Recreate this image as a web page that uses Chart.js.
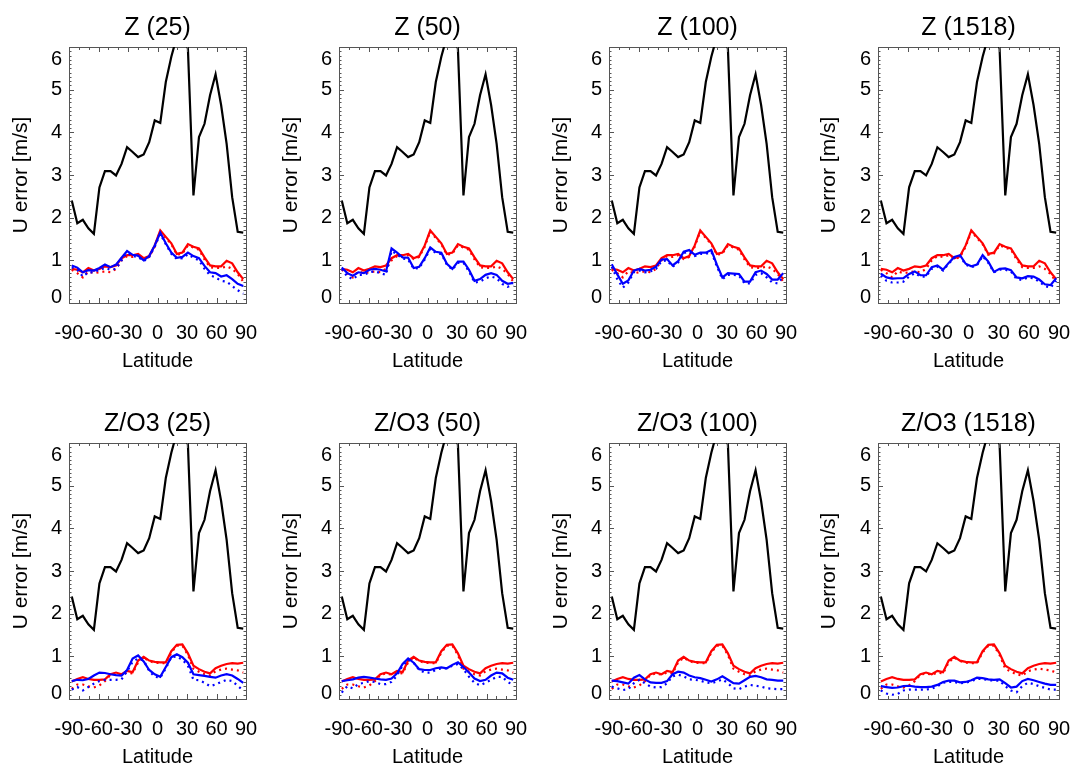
<!DOCTYPE html>
<html><head><meta charset="utf-8">
<script src="https://cdn.jsdelivr.net/npm/chart.js@4.4.1/dist/chart.umd.min.js"></script>
<style>
html,body{margin:0;padding:0;background:#fff;overflow:hidden;width:1072px;height:768px;}
.p{position:absolute;}
canvas{display:block;}
</style></head><body>
<script>
const lats = [-87.19,-81.56,-75.94,-70.31,-64.69,-59.06,-53.44,-47.81,-42.19,-36.56,-30.94,-25.31,-19.69,-14.06,-8.44,-2.81,2.81,8.44,14.06,19.69,25.31,30.94,36.56,42.19,47.81,53.44,59.06,64.69,70.31,75.94,81.56,87.19];
const xTicks = [-90,-60,-30,0,30,60,90];
const yTicks = [0,1,2,3,4,5,6];
const titles = ['Z (25)','Z (50)','Z (100)','Z (1518)','Z/O3 (25)','Z/O3 (50)','Z/O3 (100)','Z/O3 (1518)'];

const black = [2.40,1.87,1.95,1.75,1.62,2.71,3.09,3.09,2.99,3.26,3.65,3.54,3.42,3.48,3.77,4.28,4.22,5.18,5.77,6.25,6.60,5.95,2.52,3.89,4.20,4.87,5.36,4.64,3.73,2.48,1.67,1.65];

const redZ = [0.80,0.78,0.72,0.82,0.76,0.80,0.86,0.84,0.88,1.05,1.12,1.12,1.15,1.05,1.10,1.35,1.70,1.55,1.40,1.15,1.18,1.38,1.32,1.28,1.07,0.88,0.86,0.86,0.99,0.93,0.72,0.56];
const redZdot = [0.78,0.70,0.60,0.74,0.70,0.72,0.74,0.72,0.80,1.00,1.10,1.08,1.12,1.03,1.08,1.32,1.68,1.52,1.38,1.13,1.16,1.35,1.30,1.25,1.02,0.84,0.82,0.82,0.86,0.80,0.68,0.50];
const redO = [0.41,0.47,0.51,0.47,0.45,0.45,0.46,0.58,0.62,0.58,0.66,0.63,0.90,0.99,0.90,0.87,0.86,0.86,1.12,1.27,1.28,1.07,0.78,0.70,0.64,0.60,0.72,0.78,0.82,0.84,0.83,0.85];
const redOdot = [0.24,0.34,0.34,0.30,0.27,0.32,0.42,0.57,0.60,0.57,0.62,0.60,0.86,0.97,0.89,0.85,0.84,0.84,1.09,1.25,1.25,1.03,0.71,0.64,0.58,0.55,0.65,0.69,0.71,0.69,0.67,0.62];

const blueZ25 = [0.88,0.83,0.72,0.77,0.76,0.82,0.90,0.84,0.90,1.06,1.22,1.13,1.11,1.00,1.10,1.35,1.65,1.40,1.18,1.06,1.08,1.18,1.10,1.05,0.87,0.72,0.70,0.62,0.65,0.56,0.45,0.40];
const blueZ25dot = [0.84,0.78,0.62,0.72,0.72,0.78,0.82,0.78,0.80,1.00,1.18,1.10,1.08,0.98,1.08,1.32,1.62,1.38,1.15,1.03,1.05,1.14,1.06,1.00,0.80,0.65,0.60,0.52,0.50,0.40,0.30,0.22];
const blueZ50 = [0.83,0.70,0.64,0.72,0.70,0.78,0.80,0.78,0.74,1.28,1.18,1.07,1.06,0.82,0.85,1.05,1.30,1.20,1.18,0.92,0.80,0.97,0.97,0.78,0.52,0.56,0.66,0.70,0.66,0.52,0.45,0.47];
const blueZ50dot = [0.80,0.62,0.56,0.66,0.66,0.72,0.74,0.70,0.66,1.22,1.14,1.04,1.02,0.80,0.82,1.02,1.27,1.17,1.15,0.90,0.78,0.94,0.94,0.74,0.48,0.50,0.58,0.62,0.58,0.45,0.38,0.42];
const blueZ100 = [0.91,0.67,0.45,0.53,0.76,0.80,0.76,0.78,0.85,1.02,1.03,0.88,0.98,1.20,1.24,1.13,1.18,1.18,1.24,0.90,0.60,0.70,0.69,0.68,0.50,0.50,0.72,0.76,0.68,0.55,0.55,0.70];
const blueZ100dot = [0.85,0.56,0.36,0.48,0.72,0.76,0.72,0.74,0.80,0.98,1.00,0.85,0.95,1.17,1.20,1.10,1.15,1.15,1.20,0.86,0.56,0.66,0.66,0.64,0.46,0.46,0.66,0.70,0.60,0.48,0.46,0.62];
const blueZ1518 = [0.69,0.60,0.57,0.58,0.58,0.68,0.74,0.65,0.65,0.84,0.88,0.78,0.94,1.08,1.12,0.92,0.86,0.90,1.12,0.97,0.73,0.80,0.81,0.77,0.60,0.58,0.63,0.62,0.55,0.44,0.42,0.58];
const blueZ1518dot = [0.64,0.52,0.48,0.48,0.50,0.62,0.70,0.62,0.62,0.80,0.85,0.76,0.92,1.06,1.10,0.90,0.84,0.88,1.10,0.94,0.72,0.78,0.78,0.74,0.56,0.54,0.60,0.58,0.50,0.40,0.36,0.52];
const blueO25 = [0.42,0.45,0.44,0.47,0.55,0.62,0.61,0.58,0.56,0.55,0.68,0.95,1.02,0.88,0.68,0.58,0.52,0.75,0.98,1.05,0.98,0.85,0.58,0.56,0.54,0.52,0.50,0.55,0.58,0.55,0.47,0.38];
const blueO25dot = [0.22,0.28,0.20,0.28,0.36,0.42,0.45,0.45,0.45,0.46,0.65,0.87,0.95,0.90,0.66,0.52,0.50,0.72,0.98,1.00,0.92,0.78,0.45,0.44,0.38,0.30,0.34,0.40,0.45,0.42,0.31,0.20];
const blueO50 = [0.42,0.44,0.46,0.50,0.52,0.50,0.48,0.46,0.45,0.48,0.60,0.82,0.95,0.85,0.70,0.68,0.68,0.72,0.74,0.72,0.80,0.86,0.75,0.62,0.48,0.42,0.45,0.55,0.62,0.60,0.50,0.45];
const blueO50dot = [0.15,0.30,0.25,0.35,0.38,0.42,0.40,0.35,0.35,0.40,0.55,0.78,0.92,0.85,0.68,0.62,0.62,0.68,0.72,0.72,0.78,0.82,0.70,0.52,0.38,0.32,0.38,0.45,0.52,0.52,0.40,0.33];
const blueO100 = [0.43,0.42,0.39,0.36,0.50,0.56,0.46,0.39,0.38,0.38,0.42,0.58,0.64,0.62,0.55,0.51,0.49,0.45,0.41,0.46,0.53,0.45,0.37,0.36,0.44,0.52,0.54,0.51,0.46,0.45,0.43,0.43];
const blueO100dot = [0.29,0.25,0.21,0.23,0.37,0.45,0.37,0.29,0.27,0.28,0.37,0.53,0.57,0.53,0.46,0.45,0.43,0.39,0.37,0.41,0.46,0.37,0.25,0.23,0.29,0.33,0.31,0.29,0.25,0.24,0.23,0.23];
const blueO1518 = [0.30,0.28,0.26,0.27,0.30,0.31,0.29,0.28,0.28,0.29,0.33,0.40,0.43,0.43,0.39,0.40,0.44,0.50,0.49,0.46,0.45,0.46,0.37,0.27,0.29,0.42,0.47,0.44,0.40,0.36,0.33,0.33];
const blueO1518dot = [0.20,0.13,0.10,0.12,0.20,0.22,0.22,0.22,0.22,0.24,0.30,0.38,0.40,0.40,0.37,0.38,0.42,0.47,0.47,0.44,0.43,0.43,0.30,0.20,0.16,0.30,0.38,0.35,0.30,0.26,0.22,0.22];

const blueSolid = [blueZ25, blueZ50, blueZ100, blueZ1518, blueO25, blueO50, blueO100, blueO1518];
const blueDotted = [blueZ25dot, blueZ50dot, blueZ100dot, blueZ1518dot, blueO25dot, blueO50dot, blueO100dot, blueO1518dot];
const redSolid = [redZ, redO];
const redDotted = [redZdot, redOdot];

const FAM = '"Liberation Sans", Arial, Helvetica, sans-serif';
Chart.defaults.font.family = FAM;
Chart.defaults.color = '#000';

const COL_LEFT = [0, 270, 540, 808];
const COL_W = [270, 270, 270, 264];
const Y_W = [69, 69, 69, 70];
const PAD_R = [24, 24, 24, 13];
const ROW_TOP = [0, 396];
const CH = 372;

const frameTicks = {
  id: 'frameTicks',
  afterDraw(chart) {
    const {ctx, chartArea: a} = chart;
    const xs = chart.scales.x, ys = chart.scales.y;
    ctx.save();
    ctx.strokeStyle = '#555';
    ctx.lineWidth = 1;
    ctx.beginPath();
    for (let k = 0; k <= 18; k++) {
      const px = Math.round(xs.getPixelForValue(-90 + k * 10)) + 0.5;
      const len = (k % 3 === 0) ? 5 : 3;
      ctx.moveTo(px, a.bottom); ctx.lineTo(px, a.bottom - len);
      ctx.moveTo(px, a.top); ctx.lineTo(px, a.top + len);
    }
    for (let k = 0; k <= 60; k++) {
      const py = Math.round(ys.getPixelForValue(k / 10)) + 0.5;
      const len = (k % 10 === 0) ? 5 : 2.5;
      ctx.moveTo(a.left, py); ctx.lineTo(a.left + len, py);
      ctx.moveTo(a.right, py); ctx.lineTo(a.right - len, py);
    }
    ctx.stroke();
    ctx.fillStyle = '#000';
    ctx.font = '20px ' + FAM;
    ctx.textAlign = 'right';
    ctx.textBaseline = 'middle';
    yTicks.forEach(v => {
      let py = ys.getPixelForValue(v);
      if (v === ys.max) py += 12;
      if (v === ys.min) py -= 6;
      ctx.fillText(String(v), a.left - 7, py);
    });
    ctx.restore();
  }
};

function makePanel(p) {
  const row = Math.floor(p / 4), col = p % 4;
  const div = document.createElement('div');
  div.className = 'p';
  div.style.left = COL_LEFT[col] + 'px';
  div.style.top = ROW_TOP[row] + 'px';
  const cv = document.createElement('canvas');
  cv.width = COL_W[col]; cv.height = CH;
  cv.style.width = COL_W[col] + 'px'; cv.style.height = CH + 'px';
  div.appendChild(cv);
  document.body.appendChild(div);

  const pts = arr => lats.map((x, i) => ({x: x, y: arr[i]}));
  const solid = (arr, color) => ({data: pts(arr), borderColor: color, backgroundColor: color, borderWidth: 2.2, pointRadius: 0, pointHoverRadius: 0, tension: 0, fill: false, clip: 0});
  const dotted = (arr, color) => Object.assign(solid(arr, color), {borderDash: [2, 4]});
  const border = {display: true, color: '#555', width: 1};

  new Chart(cv, {
    type: 'line',
    data: {datasets: [
      dotted(blueDotted[p], '#0000ff'),
      solid(blueSolid[p], '#0000ff'),
      dotted(redDotted[row], '#ff0000'),
      solid(redSolid[row], '#ff0000'),
      solid(black, '#000000')
    ]},
    options: {
      responsive: false,
      animation: false,
      devicePixelRatio: 1,
      events: [],
      layout: {autoPadding: false, padding: {left: 0, right: PAD_R[col], top: 0, bottom: 0}},
      plugins: {
        legend: {display: false},
        tooltip: {enabled: false},
        title: {display: true, fullSize: false, text: titles[p], color: '#000', font: {size: 25, weight: 'normal', family: FAM, lineHeight: 1.2}, padding: {top: 13, bottom: 4}}
      },
      scales: {
        x: {
          type: 'linear', position: 'bottom', min: -90, max: 90,
          afterBuildTicks: s => { s.ticks = xTicks.map(v => ({value: v})); },
          ticks: {autoSkip: false, maxRotation: 0, minRotation: 0, padding: 0, color: '#000', font: {size: 20, family: FAM}, callback: v => String(v)},
          grid: {display: true, drawOnChartArea: false, drawTicks: true, tickLength: 18, tickColor: 'rgba(0,0,0,0)'},
          border: border,
          title: {display: true, text: 'Latitude', color: '#000', font: {size: 20, family: FAM, lineHeight: 1.1}, padding: {top: 0, bottom: 0}},
          afterFit: s => { s.height = 69; }
        },
        y: {
          type: 'linear', position: 'left', min: 0, max: 6,
          afterBuildTicks: s => { s.ticks = yTicks.map(v => ({value: v})); },
          ticks: {display: false},
          grid: {display: false, drawTicks: false},
          border: border,
          title: {display: true, text: 'U error [m/s]', color: '#000', font: {size: 21, family: FAM, lineHeight: 1.2}, padding: {top: 9, bottom: 0}},
          afterFit: s => { s.width = Y_W[col]; }
        },
        x2: {
          type: 'linear', position: 'top', min: -90, max: 90, display: true,
          ticks: {display: false}, grid: {display: false, drawTicks: false}, border: border,
          afterFit: s => { s.height = 0; }
        },
        y2: {
          type: 'linear', position: 'right', min: 0, max: 6, display: true,
          ticks: {display: false}, grid: {display: false, drawTicks: false}, border: border,
          afterFit: s => { s.width = 0; }
        }
      }
    },
    plugins: [frameTicks]
  });
}

for (let p = 0; p < 8; p++) makePanel(p);
</script>
</body></html>
